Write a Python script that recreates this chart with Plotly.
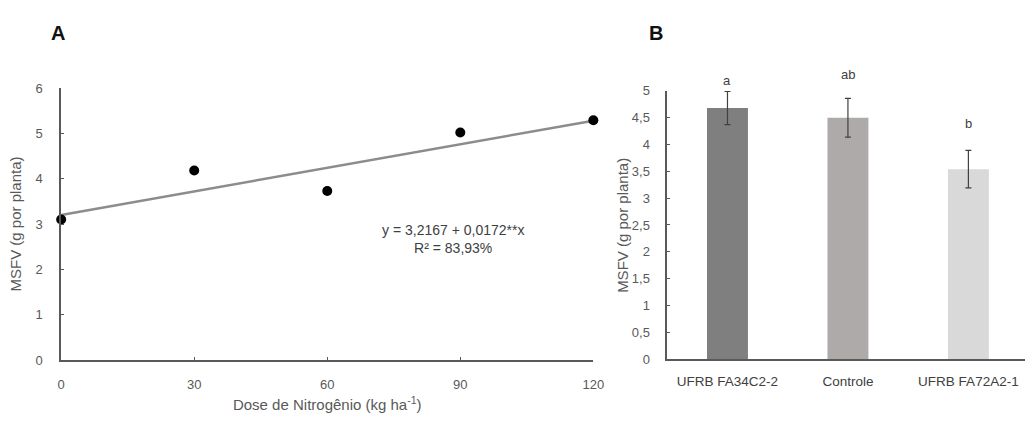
import plotly.graph_objects as go

# Panel A data
doses = [0, 30, 60, 90, 120]
msfv_dose = [3.10, 4.18, 3.73, 5.02, 5.29]
trend_x = [0, 120]
trend_y = [3.20, 5.28]
x_ticks_a = [0, 30, 60, 90, 120]
y_ticks_a = [0, 1, 2, 3, 4, 5, 6]

# Panel B data
isolates = ["UFRB FA34C2-2", "Controle", "UFRB FA72A2-1"]
msfv_iso = [4.68, 4.50, 3.54]
msfv_err = [0.31, 0.36, 0.35]
letters = ["a", "ab", "b"]
letter_y = [5.2, 5.3, 4.4]
bar_colors = ["#7f7f7f", "#aeaaaa", "#d9d9d9"]
y_ticks_b = [0, 0.5, 1, 1.5, 2, 2.5, 3, 3.5, 4, 4.5, 5]
y_ticktext_b = ["0", "0,5", "1", "1,5", "2", "2,5", "3", "3,5", "4", "4,5", "5"]

FONT = "Liberation Sans, Arial, sans-serif"
TXT = "#595959"
AX = "#595959"

W, H = 1036, 422
B_BOTTOM, B_TOP = 57, 335  # pixel rows of panel B plot area (from bottom)
B_MAX = 5

fig = go.Figure()

fig.add_trace(go.Scatter(x=trend_x, y=trend_y, mode="lines",
                         line=dict(color="#8c8c8c", width=2.5),
                         xaxis="x", yaxis="y", showlegend=False))
fig.add_trace(go.Scatter(x=doses, y=msfv_dose, mode="markers",
                         marker=dict(color="black", size=10),
                         xaxis="x", yaxis="y", showlegend=False, cliponaxis=False))

fig.add_trace(go.Bar(x=isolates, y=msfv_iso, marker=dict(color=bar_colors, line=dict(width=0)),
                     width=0.34,
                     error_y=dict(type="data", array=msfv_err, color="#404040", thickness=1.2, width=3),
                     xaxis="x2", yaxis="y2", showlegend=False))

axis_common = dict(showgrid=False, zeroline=False, showline=True, linecolor=AX, linewidth=1.5,
                   tickfont=dict(family=FONT, size=13, color=TXT), ticks="inside",
                   ticklen=3, tickcolor=AX)

fig.update_layout(
    width=W, height=H,
    margin=dict(l=0, r=0, t=0, b=0),
    paper_bgcolor="white", plot_bgcolor="white",
    font=dict(family=FONT, color=TXT),
    xaxis=dict(domain=[58/W, 598/W], range=[0, 120], tickvals=x_ticks_a,
               ticklabelstandoff=12,
               title=dict(text="Dose de Nitrogênio (kg ha<sup>-1</sup>)",
                          font=dict(family=FONT, size=15, color=TXT), standoff=8),
               **axis_common),
    yaxis=dict(domain=[56/H, 338/H], range=[0, 6], tickvals=y_ticks_a,
               ticklabelstandoff=14,
               title=dict(text="MSFV (g por planta)", font=dict(family=FONT, size=15, color=TXT),
                          standoff=10),
               **axis_common),
    xaxis2=dict(domain=[673/W, 1.0], range=[-0.5, 2.47], anchor="y2",
                showgrid=False, zeroline=False, showline=True, linecolor=AX, linewidth=1.5,
                ticks="", ticklabelstandoff=9,
                tickfont=dict(family=FONT, size=13.5, color="#404040")),
    yaxis2=dict(domain=[B_BOTTOM/H, B_TOP/H], range=[0, B_MAX], anchor="x2",
                tickvals=y_ticks_b, ticktext=y_ticktext_b,
                ticklabelstandoff=13,
                **axis_common),
)

anns = []
for lab, px, py in [("A", 55, 27), ("B", 662, 27)]:
    anns.append(dict(text="<b>" + lab + "</b>", x=px/W, y=1 - py/H, xref="paper", yref="paper",
                     showarrow=False, font=dict(family=FONT, size=20, color="#111111"),
                     xanchor="center", yanchor="middle"))
# Panel B y-axis title
anns.append(dict(text="MSFV (g por planta)", x=628/W, y=1 - 226/H, xref="paper", yref="paper",
                 showarrow=False, textangle=-90, xanchor="center", yanchor="middle",
                 font=dict(family=FONT, size=15, color=TXT)))
anns.append(dict(text="y = 3,2167 + 0,0172**x<br>R² = 83,93%", x=88.4, y=2.68, xref="x", yref="y",
                 showarrow=False, font=dict(family=FONT, size=14, color="#404040"),
                 align="center", xanchor="center", yanchor="middle"))
for i, (lt, ly) in enumerate(zip(letters, letter_y)):
    py = (B_BOTTOM + ly / B_MAX * (B_TOP - B_BOTTOM)) / H
    anns.append(dict(text=lt, x=i, y=py, xref="x2", yref="paper", showarrow=False,
                     xanchor="center", yanchor="middle",
                     font=dict(family=FONT, size=13, color="#404040")))
fig.update_layout(annotations=anns)

fig.write_html("out.html")
